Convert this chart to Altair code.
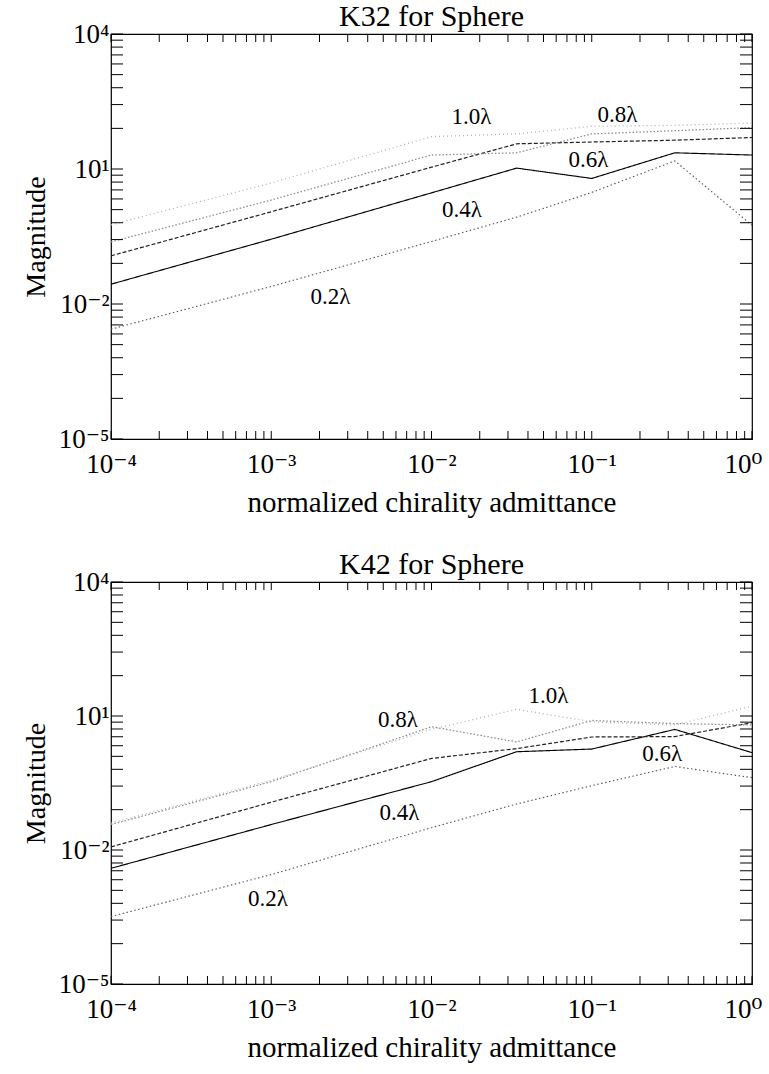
import altair as alt
import pandas as pd

# ---------------- data ----------------
chirality = [1e-4, 1e-3, 1e-2, 0.034, 0.1, 0.33, 1.0]
series_names = ["0.2λ", "0.4λ", "0.6λ", "0.8λ", "1.0λ"]

# log10(magnitude), K32 panel
k32_02 = [-2.56, -1.61, -0.61, -0.07, 0.48, 1.18, -0.25]
k32_04 = [-1.56, -0.56, 0.47, 1.02, 0.79, 1.36, 1.31]
k32_06 = [-0.93, 0.05, 1.04, 1.56, 1.60, 1.64, 1.70]
k32_08 = [-0.62, 0.31, 1.31, 1.36, 1.78, 1.85, 1.92]
k32_10 = [-0.24, 0.69, 1.72, 1.78, 1.95, 1.97, 2.02]

# log10(magnitude), K42 panel
k42_02 = [-3.49, -2.55, -1.50, -0.97, -0.56, -0.13, -0.38]
k42_04 = [-2.41, -1.43, -0.47, 0.20, 0.26, 0.70, 0.18]
k42_06 = [-1.93, -0.93, 0.05, 0.27, 0.53, 0.54, 0.85]
k42_08 = [-1.43, -0.47, 0.76, 0.42, 0.90, 0.83, 0.80]
k42_10 = [-1.40, -0.44, 0.70, 1.15, 0.87, 0.80, 1.22]

# curve labels (log10 x, log10 y)
k32_label_x = [-2.63, -1.81, -1.02, -0.84, -1.75]
k32_label_y = [-1.84, 0.09, 1.20, 2.20, 2.16]
k42_label_x = [-3.02, -2.20, -0.56, -2.21, -1.27]
k42_label_y = [-3.10, -1.17, 0.16, 0.90, 1.45]

# axes
x_tick_values = [1e-4, 1e-3, 1e-2, 1e-1, 1.0]
x_tick_labels = ["10⁻⁴", "10⁻³", "10⁻²", "10⁻¹", "10⁰"]
y_tick_values = [1e-5, 1e-2, 1e1, 1e4]
y_tick_labels = ["10⁻⁵", "10⁻²", "10¹", "10⁴"]
x_minor_mult = [2, 3, 4, 5, 6, 7, 8, 9]
y_minor_mult = [8, 27, 64, 125, 216, 343, 512, 729]

FONT = "Times New Roman, Liberation Serif, Tinos, DejaVu Serif, serif"
W = 641

colors = ["#555555", "#000000", "#222222", "#8a8a8a", "#b0b0b0"]
dashes = [[1.5, 2.5], [1, 0], [4, 2], [1.5, 2], [1, 3]]
widths = [1.1, 1.3, 1.1, 1.2, 1.2]

xscale = alt.Scale(type="log", domain=[1e-4, 1.0], nice=False)
yscale = alt.Scale(type="log", domain=[1e-5, 1e4], nice=False)


def label_expr(values, labels):
    parts = [f"abs(datum.value - {v}) < {v} * 0.01 ? '{l}'" for v, l in zip(values, labels)]
    return " : ".join(parts) + " : ''"


XAXIS = alt.Axis(values=x_tick_values, labelExpr=label_expr(x_tick_values, x_tick_labels),
                 ticks=False, domain=False, grid=False,
                 labelFont=FONT, labelFontSize=27, labelColor="black", labelPadding=12,
                 labelOffset={"condition": {"test": "datum.value > 0.5", "value": -9}, "value": 0},
                 labelFlush=False, labelOverlap=False, labelBound=False,
                 title="normalized chirality admittance", titleFont=FONT, titleFontSize=29,
                 titleFontWeight="normal", titleColor="black", titlePadding=11)
YAXIS = alt.Axis(values=y_tick_values, labelExpr=label_expr(y_tick_values, y_tick_labels),
                 ticks=False, domain=False, grid=False,
                 labelFont=FONT, labelFontSize=27, labelColor="black", labelPadding=2,
                 labelFlush=False, labelOverlap=False, labelBound=False,
                 title="Magnitude", titleFont=FONT, titleFontSize=28,
                 titleFontWeight="normal", titleColor="black", titlePadding=8)

x_ticks = sorted(set(x_tick_values + [m * 10.0 ** k for k in range(-4, 0) for m in x_minor_mult]))
y_ticks = sorted(set(y_tick_values + [m * 10.0 ** k for k in (-5, -2, 1) for m in y_minor_mult]))


def panel(title, series, lab_x, lab_y, H):
    rows = []
    for name, vals in zip(series_names, series):
        for x, v in zip(chirality, vals):
            rows.append({"x": x, "mag": 10.0 ** v, "series": name})
    df = pd.DataFrame(rows)
    lab = pd.DataFrame({"x": [10.0 ** v for v in lab_x],
                        "mag": [10.0 ** v for v in lab_y],
                        "text": series_names})

    lines = alt.Chart(df).mark_line(clip=True).encode(
        x=alt.X("x:Q", scale=xscale, axis=XAXIS),
        y=alt.Y("mag:Q", scale=yscale, axis=YAXIS),
        color=alt.Color("series:N", scale=alt.Scale(domain=series_names, range=colors), legend=None),
        strokeDash=alt.StrokeDash("series:N", scale=alt.Scale(domain=series_names, range=dashes), legend=None),
        strokeWidth=alt.StrokeWidth("series:N", scale=alt.Scale(domain=series_names, range=widths), legend=None),
    )
    texts = alt.Chart(lab).mark_text(font=FONT, fontSize=23, color="black",
                                     align="center", baseline="middle").encode(
        x=alt.X("x:Q", scale=xscale, axis=XAXIS),
        y=alt.Y("mag:Q", scale=yscale, axis=YAXIS),
        text="text:N",
    )
    xt = pd.DataFrame({"x": x_ticks})
    yt = pd.DataFrame({"mag": y_ticks})
    xb = alt.Chart(xt).mark_rule(color="black", strokeWidth=1).encode(
        x=alt.X("x:Q", scale=xscale, axis=XAXIS), y=alt.value(H), y2=alt.value(H - 8))
    xtop = alt.Chart(xt).mark_rule(color="black", strokeWidth=1).encode(
        x=alt.X("x:Q", scale=xscale, axis=XAXIS), y=alt.value(0), y2=alt.value(8))
    yl = alt.Chart(yt).mark_rule(color="black", strokeWidth=1).encode(
        y=alt.Y("mag:Q", scale=yscale, axis=YAXIS), x=alt.value(0), x2=alt.value(12))
    yr = alt.Chart(yt).mark_rule(color="black", strokeWidth=1).encode(
        y=alt.Y("mag:Q", scale=yscale, axis=YAXIS), x=alt.value(W - 12), x2=alt.value(W))

    return alt.layer(lines, texts, xb, xtop, yl, yr).properties(
        width=W, height=H,
        title=alt.TitleParams(title, font=FONT, fontSize=30, fontWeight="normal",
                              color="black", anchor="middle", offset=-12, frame="group"),
    )


top = panel("K32 for Sphere", [k32_02, k32_04, k32_06, k32_08, k32_10], k32_label_x, k32_label_y, 405)
bottom = panel("K42 for Sphere", [k42_02, k42_04, k42_06, k42_08, k42_10], k42_label_x, k42_label_y, 402)

chart = alt.vconcat(top, bottom, spacing=31).properties(
    padding={"left": 21, "top": 1, "right": 0, "bottom": 0},
    background="white",
).configure_view(stroke="black", strokeWidth=1.2)

chart.save("out.html", embed_options={"renderer": "svg", "actions": False})
